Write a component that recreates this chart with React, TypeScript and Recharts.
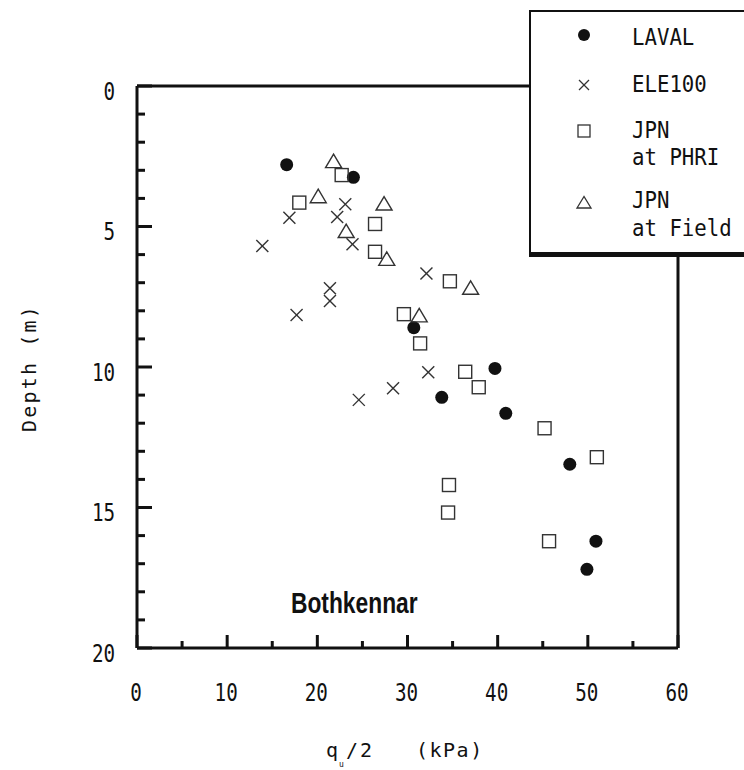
import React from 'react';
import { ScatterChart, Scatter, XAxis, YAxis } from 'recharts';

// q_u/2 (kPa) vs depth (m), Bothkennar
const lavalQ = [16.6, 24.0, 30.7, 39.7, 33.8, 40.9, 48.0, 50.9, 49.9];
const lavalDepth = [2.8, 3.25, 8.6, 10.05, 11.08, 11.65, 13.46, 16.2, 17.2];

const eleQ = [16.9, 13.9, 23.1, 22.2, 23.9, 21.4, 21.4, 17.7, 32.1, 32.3, 28.4, 24.6];
const eleDepth = [4.69, 5.69, 4.21, 4.66, 5.63, 7.2, 7.65, 8.15, 6.67, 10.19, 10.76, 11.17];

const phriQ = [22.7, 18.0, 26.4, 26.4, 34.7, 29.6, 31.4, 36.4, 37.9, 45.2, 51.0, 34.6, 34.5, 45.7];
const phriDepth = [3.17, 4.15, 4.91, 5.9, 6.95, 8.12, 9.16, 10.17, 10.72, 12.18, 13.21, 14.2, 15.18, 16.2];

const fieldQ = [21.8, 20.1, 27.4, 23.2, 27.7, 37.0, 31.3];
const fieldDepth = [2.69, 3.94, 4.2, 5.18, 6.17, 7.2, 8.18];

const xTicks = [0, 5, 10, 15, 20, 25, 30, 35, 40, 45, 50, 55, 60];
const yTicks = [0, 1, 2, 3, 4, 5, 6, 7, 8, 9, 10, 11, 12, 13, 14, 15, 16, 17, 18, 19, 20];

const MONO = '"DejaVu Sans Mono", monospace';
const INK = '#111';
const MARK = '#333';

const toPoints = (q: number[], d: number[]) => q.map((v, i) => ({ q: v, depth: d[i] }));

const Dot = ({ cx, cy }: any) => <circle cx={cx} cy={cy} r={6.5} fill={INK} />;
const Cross = ({ cx, cy }: any) => (
  <g stroke={MARK} strokeWidth={1.4}>
    <line x1={cx - 6} y1={cy - 6} x2={cx + 6} y2={cy + 6} />
    <line x1={cx - 6} y1={cy + 6} x2={cx + 6} y2={cy - 6} />
  </g>
);
const Square = ({ cx, cy }: any) => (
  <rect x={cx - 6.5} y={cy - 6.5} width={13} height={13} fill="none" stroke={MARK} strokeWidth={1.4} />
);
const Tri = ({ cx, cy }: any) => (
  <polygon
    points={`${cx},${cy - 7.5} ${cx - 8},${cy + 6} ${cx + 8},${cy + 6}`}
    fill="none"
    stroke={MARK}
    strokeWidth={1.4}
  />
);

// narrow tall lettering like the scanned original
const Narrow = ({ x, y, anchor = 'start', size = 24, sx = 0.8, children }: any) => (
  <text
    transform={`translate(${x} ${y}) scale(${sx} 1)`}
    textAnchor={anchor}
    fontFamily={MONO}
    fontSize={size}
    fill={INK}
  >
    {children}
  </text>
);

const BottomTick = ({ x, y, payload }: any) => {
  const major = payload.value % 10 === 0;
  return (
    <g>
      <line x1={x} x2={x} y1={y} y2={y - (major ? 13 : 7)} stroke={INK} strokeWidth={3} />
      {major && (
        <Narrow x={x - 1} y={y + 52.5} anchor="middle">
          {payload.value}
        </Narrow>
      )}
    </g>
  );
};
const TopTick = ({ x, y, payload }: any) => {
  const major = payload.value % 10 === 0;
  return <line x1={x} x2={x} y1={y} y2={y + (major ? 13 : 7)} stroke={INK} strokeWidth={3} />;
};
const LeftTick = ({ x, y, payload }: any) => {
  const major = payload.value % 5 === 0;
  return (
    <g>
      <line x1={x} x2={x + (major ? 15 : 8)} y1={y} y2={y} stroke={INK} strokeWidth={3} />
      {major && (
        <Narrow x={x - 22} y={y + 13.5} anchor="end">
          {payload.value}
        </Narrow>
      )}
    </g>
  );
};
const RightTick = ({ x, y, payload }: any) => {
  const major = payload.value % 5 === 0;
  return <line x1={x} x2={x - (major ? 13 : 7)} y1={y} y2={y} stroke={INK} strokeWidth={3} />;
};

const legendItems = [
  { lines: ['LAVAL'], cy: 23, base: [33] },
  { lines: ['ELE100'], cy: 73, base: [80] },
  { lines: ['JPN', 'at PHRI'], cy: 119, base: [126, 153] },
  { lines: ['JPN', 'at Field'], cy: 191, base: [196, 224] },
];

export default function App() {
  const axisLine = { stroke: INK, strokeWidth: 3 };
  return (
    <div style={{ position: 'absolute', left: 0, top: 0, width: 744, height: 770, background: '#fff' }}>
      <ScatterChart width={744} height={770} margin={{ top: 0, right: 0, bottom: 0, left: 0 }}>
        <XAxis
          xAxisId="b"
          type="number"
          dataKey="q"
          domain={[0, 60]}
          ticks={xTicks}
          interval={0}
          height={122}
          tickSize={0}
          tickMargin={0}
          axisLine={axisLine}
          tick={<BottomTick />}
        />
        <XAxis
          xAxisId="t"
          orientation="top"
          type="number"
          dataKey="q"
          domain={[0, 60]}
          ticks={xTicks}
          interval={0}
          height={86}
          tickSize={0}
          tickMargin={0}
          axisLine={axisLine}
          tick={<TopTick />}
        />
        <YAxis
          yAxisId="l"
          type="number"
          dataKey="depth"
          domain={[0, 20]}
          reversed
          ticks={yTicks}
          interval={0}
          width={137}
          tickSize={0}
          tickMargin={0}
          axisLine={axisLine}
          tick={<LeftTick />}
        />
        <YAxis
          yAxisId="r"
          orientation="right"
          type="number"
          dataKey="depth"
          domain={[0, 20]}
          reversed
          ticks={yTicks}
          interval={0}
          width={66}
          tickSize={0}
          tickMargin={0}
          axisLine={axisLine}
          tick={<RightTick />}
        />
        <Scatter xAxisId="b" yAxisId="l" name="LAVAL" data={toPoints(lavalQ, lavalDepth)} shape={Dot} isAnimationActive={false} />
        <Scatter xAxisId="b" yAxisId="l" name="ELE100" data={toPoints(eleQ, eleDepth)} shape={Cross} isAnimationActive={false} />
        <Scatter xAxisId="b" yAxisId="l" name="JPN at PHRI" data={toPoints(phriQ, phriDepth)} shape={Square} isAnimationActive={false} />
        <Scatter xAxisId="b" yAxisId="l" name="JPN at Field" data={toPoints(fieldQ, fieldDepth)} shape={Tri} isAnimationActive={false} />
      </ScatterChart>

      {/* titles and annotation */}
      <svg width={744} height={770} style={{ position: 'absolute', left: 0, top: 0, pointerEvents: 'none' }}>
        <text
          x={36}
          y={368}
          transform="rotate(-90 36 368)"
          textAnchor="middle"
          fontFamily={MONO}
          fontSize={20}
          letterSpacing={2.2}
          fill={INK}
        >
          {'Depth  (m)'}
        </text>
        <text x={326} y={757} fontFamily={MONO} fontSize={20} fill={INK}>q</text>
        <text x={339} y={767} fontFamily={MONO} fontSize={8} fill={INK}>u</text>
        <text x={346} y={757} fontFamily={MONO} fontSize={20} letterSpacing={2} fill={INK}>/2</text>
        <text x={416} y={757} fontFamily={MONO} fontSize={20} letterSpacing={1.5} fill={INK}>(kPa)</text>
        <text
          transform="translate(291 613) scale(0.76 1)"
          fontFamily='"Liberation Sans", Arial, sans-serif'
          fontWeight="bold"
          fontSize={30}
          fill={INK}
        >
          Bothkennar
        </text>
      </svg>

      {/* legend box, covering the plot's top-right corner */}
      <div
        style={{
          position: 'absolute',
          left: 529,
          top: 10,
          width: 240,
          height: 247,
          background: '#fff',
          borderLeft: `2px solid ${INK}`,
          borderTop: `2px solid ${INK}`,
          borderBottom: `5px solid ${INK}`,
          boxSizing: 'border-box',
        }}
      >
        <svg width={240} height={240}>
          {legendItems.map((it, i) => (
            <g key={i}>
              {i === 0 && <circle cx={53} cy={it.cy} r={6} fill={INK} />}
              {i === 1 && (
                <g stroke={MARK} strokeWidth={1.3}>
                  <line x1={48} y1={it.cy - 5} x2={58} y2={it.cy + 5} />
                  <line x1={48} y1={it.cy + 5} x2={58} y2={it.cy - 5} />
                </g>
              )}
              {i === 2 && (
                <rect x={47} y={it.cy - 6} width={12} height={12} fill="none" stroke={MARK} strokeWidth={1.3} />
              )}
              {i === 3 && (
                <polygon
                  points={`53,${it.cy - 6.5} 46,${it.cy + 5} 60,${it.cy + 5}`}
                  fill="none"
                  stroke={MARK}
                  strokeWidth={1.3}
                />
              )}
              {it.lines.map((t, j) => (
                <Narrow key={j} x={101} y={it.base[j]} size={23} sx={0.9}>
                  {t}
                </Narrow>
              ))}
            </g>
          ))}
        </svg>
      </div>
    </div>
  );
}
